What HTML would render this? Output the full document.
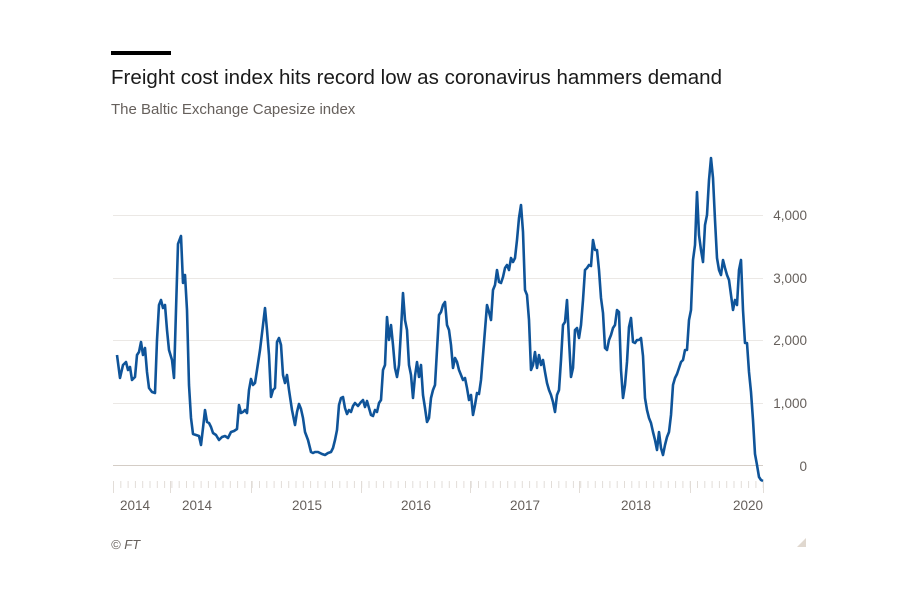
<!DOCTYPE html>
<html><head><meta charset="utf-8"><style>
body{margin:0;background:#fff;width:900px;height:600px;overflow:hidden;font-family:"Liberation Sans",sans-serif}
</style></head><body>
<svg width="900" height="600" viewBox="0 0 900 600" xmlns="http://www.w3.org/2000/svg">
<rect x="111" y="51" width="60" height="4" fill="#000"/>
<text x="111" y="84" font-size="20.5" fill="#1a1a1a" font-family="Liberation Sans, sans-serif" textLength="611">Freight cost index hits record low as coronavirus hammers demand</text>
<text x="111" y="114" font-size="15" fill="#66605c" font-family="Liberation Sans, sans-serif">The Baltic Exchange Capesize index</text>
<g stroke="#ebe8e5" stroke-width="1">
<line x1="113" y1="215.5" x2="763" y2="215.5"/>
<line x1="113" y1="278.5" x2="763" y2="278.5"/>
<line x1="113" y1="340.5" x2="763" y2="340.5"/>
<line x1="113" y1="403.5" x2="763" y2="403.5"/>
</g>
<line x1="113" y1="465.5" x2="763" y2="465.5" stroke="#d4cdc6" stroke-width="1"/>
<g font-size="13.5" fill="#66605c" text-anchor="end" font-family="Liberation Sans, sans-serif">
<text x="807" y="220">4,000</text><text x="807" y="283">3,000</text><text x="807" y="345">2,000</text><text x="807" y="408">1,000</text><text x="807" y="471">0</text>
</g>
<g id="ticks" stroke="#e2ddd8" stroke-width="1"></g>
<g font-size="13.5" fill="#66605c" text-anchor="middle" font-family="Liberation Sans, sans-serif">
<text x="135" y="510">2014</text><text x="197" y="510">2014</text><text x="307" y="510">2015</text><text x="416" y="510">2016</text><text x="525" y="510">2017</text><text x="636" y="510">2018</text><text x="748" y="510">2020</text>
</g>
<text x="111" y="549" font-size="13" font-style="italic" fill="#66605c" font-family="Liberation Sans, sans-serif">© FT</text>
<polygon points="806,538 806,547 797,547" fill="#e0d8cf"/>
<polyline fill="none" stroke="#0f5499" stroke-width="2.6" stroke-linejoin="round" points="117,355 120,378 123,365 126,362 128,370 130,367 132,380 135,377 137,355 139,352 141,342 143,355 145,348 147,372 149,388 152,392 155,393 157,340 159,305 161,300 163,308 165,305 167,330 169,350 172,360 174,378 176,310 178,244 181,236 183,283 185,275 187,310 189,385 191,418 193,434 196,435 199,436 201,445 203,428 205,410 207,422 209,423 211,427 213,433 216,435 219,440 222,437 225,436 228,438 231,432 234,431 237,429 239,405 241,413 243,412 245,410 247,413 249,390 251,379 253,385 255,383 257,370 260,350 263,325 265,308 267,330 269,355 271,397 273,390 275,388 277,342 279,338 281,345 283,375 285,383 287,375 289,390 292,410 295,425 297,412 299,404 301,409 303,418 305,432 308,440 311,452 313,453 315,452 318,452 320,453 322,454 325,455 328,453 331,452 333,448 335,440 337,430 339,405 341,398 343,397 345,408 347,414 349,410 351,412 353,406 355,403 358,406 361,402 363,400 365,407 367,401 369,408 371,415 373,416 375,410 377,412 379,403 381,400 383,370 385,365 387,317 389,340 391,325 393,345 395,368 397,377 399,365 401,330 403,293 405,320 407,330 409,365 411,375 413,398 415,376 417,362 419,377 421,365 423,395 425,408 427,422 429,418 431,398 433,390 435,385 437,350 439,315 441,312 443,305 445,302 447,325 449,330 451,345 453,368 455,358 457,362 459,370 461,375 463,380 465,378 467,388 469,400 471,395 473,415 475,405 477,393 479,394 481,380 483,355 485,330 487,305 489,312 491,320 493,290 495,285 497,270 499,282 501,283 503,277 505,268 507,265 509,270 511,258 513,262 515,258 517,240 519,218 521,205 523,232 525,290 527,295 529,320 531,370 533,365 535,352 537,368 539,355 541,365 543,360 545,372 547,383 549,390 551,395 553,402 555,412 557,395 559,390 561,360 563,325 565,322 567,300 569,340 571,377 573,368 575,330 577,328 579,338 581,325 583,300 585,270 587,268 589,265 591,266 593,240 595,250 597,250 599,270 601,298 603,313 605,348 607,350 609,340 611,335 613,328 615,325 617,310 619,312 621,370 623,398 625,385 627,362 629,327 631,318 633,342 635,343 637,340 639,340 641,338 643,356 645,398 647,410 649,418 651,423 653,432 655,440 657,450 659,432 661,448 663,455 665,445 667,437 669,432 671,415 673,385 675,378 677,374 679,368 681,362 683,360 685,350 687,350 689,320 691,310 693,260 695,245 697,192 699,235 701,250 703,262 705,225 707,215 709,180 711,158 713,178 715,220 717,258 719,270 721,275 723,260 725,268 727,275 729,280 731,295 733,310 735,300 737,305 739,270 741,260 743,310 745,343 747,343 749,372 751,392 753,420 755,454 757,465 759,477 761,480 763,481"/>
</svg>
<script>
var g=document.getElementById('ticks'),s='';
for(var x=113.5;x<=764;x+=7.3){s+='<line x1="'+x+'" y1="481" x2="'+x+'" y2="488"/>';}
[113.5,170.5,251.5,361.5,470.5,579.5,690.5,763.5].forEach(function(x){s+='<line x1="'+x+'" y1="481" x2="'+x+'" y2="493"/>';});
g.innerHTML=s;
</script>
</body></html>
